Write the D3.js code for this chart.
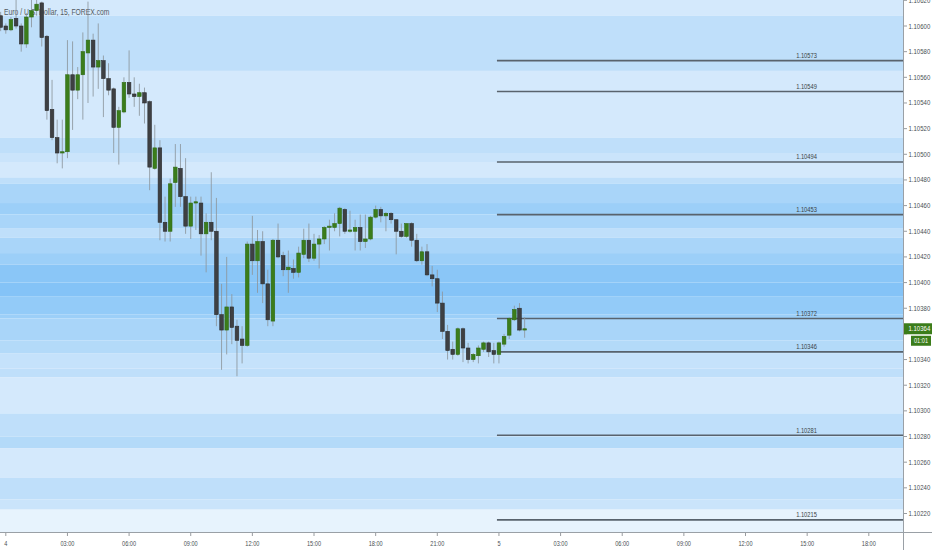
<!DOCTYPE html>
<html><head><meta charset="utf-8">
<script src="https://cdn.jsdelivr.net/npm/d3@7"></script>
<style>html,body{margin:0;padding:0;background:#fff;}svg{display:block;}</style>
</head><body>
<svg id="chart" width="932" height="550"></svg>
<script>
// ---------- DATA ----------
const title = "Euro / U.S. Dollar, 15, FOREX.com";
// bar index (15-min bars from day 4 00:00), open, high, low, close
const barIndex = d3.range(-1, 102);
const opens  = [1.10608,1.10600,1.10597,1.10606,1.10600,1.10586,1.10607,1.10612,1.10618,1.10592,1.10535,1.10513,1.10501,1.10502,1.10562,1.10550,1.10562,1.10579,1.10589,1.10568,1.10573,1.10559,1.10551,1.10521,1.10533,1.10556,1.10547,1.10545,1.10548,1.10541,1.10489,1.10505,1.10447,1.10440,1.10478,1.10489,1.10467,1.10444,1.10462,1.10462,1.10438,1.10447,1.10440,1.10375,1.10363,1.10381,1.10366,1.10356,1.10351,1.10430,1.10417,1.10432,1.10399,1.10370,1.10433,1.10421,1.10410,1.10411,1.10408,1.10422,1.10433,1.10419,1.10430,1.10434,1.10443,1.10443,1.10446,1.10457,1.10440,1.10440,1.10443,1.10432,1.10434,1.10451,1.10457,1.10452,1.10454,1.10449,1.10440,1.10436,1.10446,1.10433,1.10417,1.10424,1.10406,1.10403,1.10384,1.10362,1.10348,1.10344,1.10364,1.10349,1.10340,1.10343,1.10348,1.10353,1.10347,1.10344,1.10352,1.10359,1.10371,1.10380,1.10363];
const highs  = [1.10611,1.10602,1.10607,1.10622,1.10602,1.10610,1.10622,1.10624,1.10619,1.10593,1.10558,1.10527,1.10527,1.10589,1.10588,1.10568,1.10595,1.10619,1.10594,1.10602,1.10577,1.10571,1.10552,1.10537,1.10560,1.10581,1.10560,1.10555,1.10552,1.10542,1.10523,1.10511,1.10467,1.10481,1.10508,1.10508,1.10497,1.10467,1.10467,1.10467,1.10454,1.10486,1.10466,1.10399,1.10420,1.10391,1.10371,1.10366,1.10432,1.10452,1.10441,1.10440,1.10410,1.10434,1.10446,1.10424,1.10425,1.10418,1.10428,1.10442,1.10446,1.10438,1.10437,1.10444,1.10449,1.10454,1.10459,1.10458,1.10456,1.10449,1.10453,1.10453,1.10452,1.10460,1.10459,1.10455,1.10455,1.10449,1.10446,1.10446,1.10447,1.10438,1.10428,1.10430,1.10413,1.10410,1.10393,1.10367,1.10354,1.10365,1.10365,1.10353,1.10345,1.10351,1.10354,1.10354,1.10353,1.10354,1.10360,1.10373,1.10382,1.10384,1.10373];
const lows   = [1.10596,1.10594,1.10596,1.10598,1.10580,1.10583,1.10599,1.10608,1.10584,1.10527,1.10511,1.10493,1.10489,1.10497,1.10519,1.10543,1.10527,1.10540,1.10545,1.10551,1.10529,1.10546,1.10501,1.10492,1.10532,1.10544,1.10537,1.10530,1.10524,1.10472,1.10488,1.10433,1.10432,1.10432,1.10459,1.10459,1.10438,1.10434,1.10441,1.10421,1.10408,1.10433,1.10366,1.10332,1.10344,1.10352,1.10327,1.10337,1.10350,1.10406,1.10392,1.10384,1.10366,1.10366,1.10419,1.10405,1.10392,1.10403,1.10404,1.10419,1.10416,1.10417,1.10411,1.10430,1.10425,1.10440,1.10436,1.10438,1.10439,1.10425,1.10425,1.10427,1.10433,1.10450,1.10447,1.10440,1.10446,1.10422,1.10435,1.10435,1.10428,1.10416,1.10414,1.10405,1.10397,1.10377,1.10356,1.10340,1.10340,1.10343,1.10338,1.10337,1.10338,1.10337,1.10346,1.10342,1.10337,1.10337,1.10350,1.10356,1.10370,1.10362,1.10357];
const closes = [1.10599,1.10597,1.10605,1.10600,1.10586,1.10607,1.10612,1.10617,1.10591,1.10534,1.10513,1.10501,1.10502,1.10562,1.10550,1.10562,1.10580,1.10589,1.10568,1.10573,1.10559,1.10550,1.10521,1.10534,1.10556,1.10547,1.10545,1.10548,1.10540,1.10490,1.10505,1.10447,1.10440,1.10477,1.10490,1.10467,1.10444,1.10462,1.10463,1.10438,1.10447,1.10440,1.10375,1.10363,1.10381,1.10365,1.10355,1.10351,1.10430,1.10417,1.10432,1.10399,1.10371,1.10433,1.10420,1.10410,1.10412,1.10408,1.10423,1.10433,1.10419,1.10430,1.10434,1.10443,1.10444,1.10446,1.10458,1.10440,1.10441,1.10443,1.10432,1.10434,1.10451,1.10457,1.10452,1.10454,1.10449,1.10440,1.10436,1.10446,1.10433,1.10417,1.10424,1.10406,1.10403,1.10384,1.10362,1.10347,1.10344,1.10364,1.10349,1.10340,1.10344,1.10349,1.10353,1.10346,1.10344,1.10353,1.10358,1.10372,1.10379,1.10363,1.10364];

// horizontal levels
const levels = [1.10573, 1.10549, 1.10494, 1.10453, 1.10372, 1.10346, 1.10281, 1.10215];
const levelStartBar = 96;
// background zones: price edges (top -> bottom) and density level of each zone
const zoneEdges = [1.10630,1.10608,1.10565,1.10513,1.10501,1.10494,1.10482,1.10477,1.10462,1.10453,1.10442,1.10435,1.10423,1.10414,1.10400,1.10389,1.10375,1.10372,1.10355,1.10345,1.10333,1.10326,1.10298,1.10280,1.10271,1.10248,1.10231,1.10223,1.10190];
const zoneLevels = [1,3,1,3,2,1,3,5,6,5,3,5,6,8,9,7,6,5,4,2.5,3,1,3,4,1,3,2,0];

// axes
const priceTicks = d3.range(0, 21).map(k => +(1.10220 + k * 0.0002).toFixed(5));
const timeTickBars = d3.range(0, 169, 12);
const timeTickLabels = ["4","03:00","06:00","09:00","12:00","15:00","18:00","21:00","5","03:00","06:00","09:00","12:00","15:00","18:00"];
const lastPrice = 1.10364;
const countdown = "01:01";

// ---------- DRAW ----------
const W = 932, H = 550, plotR = 903, plotB = 532;
const svg = d3.select("#chart");
const x = d3.scaleLinear().domain([0, 168]).range([5.8, 868.8]);
const y = d3.scaleLinear().domain([1.10220, 1.10600]).range([513.5, 26]);
const shade = ["#e7f3fd","#d4e9fc","#cae4fb","#bfdffa","#b3daf9","#a9d5f9","#9ccff8","#93cbf8","#8ac6f7","#84c3f7"];
const shadeOf = v => d3.interpolateRgb(shade[Math.floor(v)], shade[Math.min(9, Math.ceil(v))])(v - Math.floor(v));

svg.append("rect").attr("width", W).attr("height", H).attr("fill", "#ffffff");
const defs = svg.append("defs");
defs.append("clipPath").attr("id", "plot").append("rect").attr("x", 0).attr("y", 0).attr("width", plotR).attr("height", plotB);
const plot = svg.append("g").attr("clip-path", "url(#plot)");

// zones
const zones = zoneLevels.map((lv, k) => ({ top: zoneEdges[k], bot: zoneEdges[k + 1], lv }));
plot.selectAll("rect.zone").data(zones).join("rect").attr("class", "zone")
  .attr("x", 0).attr("width", plotR)
  .attr("y", d => y(d.top)).attr("height", d => y(d.bot) - y(d.top))
  .attr("fill", d => shadeOf(d.lv));

// helper for condensed text
function ctext(g, str, tx, ty, size, fill, anchor, sx) {
  return g.append("text").attr("transform", `translate(${tx},${ty}) scale(${sx},1)`)
    .attr("font-family", "'Liberation Sans', Arial, sans-serif").attr("font-size", size)
    .attr("fill", fill).attr("text-anchor", anchor || "start").text(str);
}

// title
ctext(plot, title, 4, 15, 8.6, "#555b62", "start", 0.79);

// levels
const lv = plot.append("g");
lv.selectAll("line").data(levels).join("line")
  .attr("x1", x(levelStartBar) - 2).attr("x2", plotR)
  .attr("y1", d => y(d)).attr("y2", d => y(d))
  .attr("stroke", "#59636d").attr("stroke-width", 1.6);
levels.forEach(p => ctext(lv, p.toFixed(5), 806.5, y(p) - 2.6, 7, "#3a3f44", "middle", 0.82));

// candles
const bars = barIndex.map((b, k) => ({ b, o: opens[k], h: highs[k], l: lows[k], c: closes[k] }));
const bw = 3.6;
const cg = plot.append("g");
cg.selectAll("line.wick").data(bars).join("line").attr("class", "wick")
  .attr("x1", d => x(d.b)).attr("x2", d => x(d.b))
  .attr("y1", d => y(d.h)).attr("y2", d => y(d.l))
  .attr("stroke", "#8d969e").attr("stroke-opacity", 0.85).attr("stroke-width", 1);
cg.selectAll("rect.body").data(bars).join("rect").attr("class", "body")
  .attr("x", d => x(d.b) - bw / 2).attr("width", bw)
  .attr("y", d => y(Math.max(d.o, d.c)))
  .attr("height", d => Math.max(1.2, Math.abs(y(d.o) - y(d.c))))
  .attr("fill", d => d.c >= d.o ? "#3b7d1b" : "#3e4043")
  .attr("stroke", d => d.c >= d.o ? "#2f6a14" : "#2c2d2f").attr("stroke-width", 0.6);

// axes lines
svg.append("line").attr("x1", plotR + 0.5).attr("x2", plotR + 0.5).attr("y1", 0).attr("y2", H).attr("stroke", "#9aa0a6").attr("stroke-width", 1);
svg.append("line").attr("x1", 0).attr("x2", W).attr("y1", plotB + 0.5).attr("y2", plotB + 0.5).attr("stroke", "#9aa0a6").attr("stroke-width", 1);

// price axis (labels hidden under the last-price badge are skipped)
const ly = y(lastPrice);
const pa = svg.append("g");
priceTicks.forEach(p => {
  pa.append("line").attr("x1", plotR + 1).attr("x2", plotR + 4).attr("y1", y(p)).attr("y2", y(p)).attr("stroke", "#7d8388").attr("stroke-width", 0.8);
  if (Math.abs(y(p) - ly) < 14) return;
  ctext(pa, p.toFixed(5), plotR + 5.5, y(p) + 2.5, 7, "#4a4f54", "start", 0.86);
});

// time axis
const ta = svg.append("g");
timeTickBars.forEach((b, k) => {
  ta.append("line").attr("x1", x(b)).attr("x2", x(b)).attr("y1", plotB + 1).attr("y2", plotB + 4).attr("stroke", "#7d8388").attr("stroke-width", 0.8);
  ctext(ta, timeTickLabels[k], x(b), 546, 7, "#4a4f54", "middle", 0.8);
});

// last price label
svg.append("rect").attr("x", plotR + 1).attr("y", ly - 5.5).attr("width", W - plotR - 1).attr("height", 11).attr("fill", "#3b7d1b");
ctext(svg, lastPrice.toFixed(5), plotR + 5.5, ly + 2.5, 7, "#ffffff", "start", 0.86);
svg.append("rect").attr("x", 911).attr("y", ly + 7).attr("width", 20).attr("height", 10).attr("fill", "#3b7d1b");
ctext(svg, countdown, 921, ly + 14.5, 7, "#ffffff", "middle", 0.8);
</script>
</body></html>
